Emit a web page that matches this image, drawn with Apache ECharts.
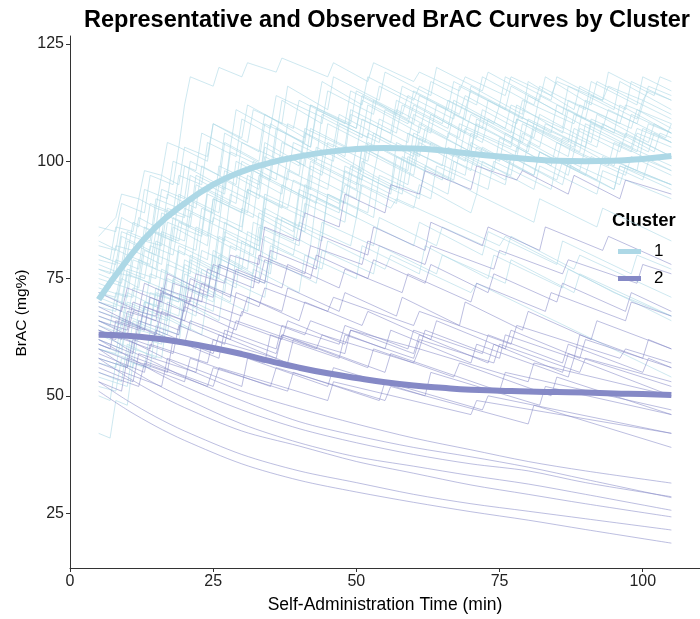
<!DOCTYPE html>
<html>
<head>
<meta charset="utf-8">
<script src="https://cdn.jsdelivr.net/npm/echarts@6/dist/echarts.min.js"></script>
<style>
html,body{margin:0;padding:0;background:#fff;}
#chart{width:700px;height:619px;}
</style>
</head>
<body>
<div id="chart"></div>
<script>
// ---------- tick labels ----------
const xTicks = [0, 25, 50, 75, 100];
const yTicks = [25, 50, 75, 100, 125];
const clusterNames = ['1', '2'];

// ---------- representative curves ----------
const repTime = [5,10,15,20,25,30,35,40,45,50,55,60,65,70,75,80,85,90,95,100,105];
const repCluster1 = [70.5,79,86,91,95,97.8,99.7,101,102,102.6,102.8,102.7,102.3,101.6,101,100.5,100.1,100,100.1,100.5,101.1];
const repCluster2 = [63,62.8,62.2,61.3,60.2,58.9,57.4,56,54.8,53.8,52.9,52.2,51.7,51.3,51.1,50.9,50.8,50.7,50.5,50.4,50.2];

// ---------- observed curves, cluster 1 ([min, mg%] vertices) ----------
const cluster1Observed = [
 [[5,84],[8,88],[9,93],[12,92],[13,98],[16,97],[17,104],[19,103],[20,112],[21,118],[25,116],[26,120],[30,118],[31,121],[36,119],[37,122],[45,118],[46,121],[52,117],[53,121],[60,117],[61,119],[68,115],[69,118],[76,114],[77,118],[84,114],[85,117],[93,113],[94,116],[100,113],[101,115],[105,113]],
 [[5,80],[7,79],[8,86],[11,85],[12,92],[15,90],[16,97],[19,95],[20,103],[24,101],[25,108],[30,105],[31,112],[37,108],[38,116],[45,111],[46,118],[54,113],[55,119],[63,114],[64,120],[72,115],[73,119],[82,113],[83,118],[91,112],[92,117],[100,112],[101,116],[105,114]],
 [[5,76],[9,74],[10,80],[14,78],[15,85],[19,83],[20,90],[25,87],[26,95],[31,92],[32,100],[38,96],[39,104],[46,100],[47,108],[54,104],[55,111],[63,106],[64,112],[72,107],[73,113],[81,108],[82,114],[90,109],[91,114],[99,109],[100,113],[105,110]],
 [[5,72],[8,71],[9,77],[13,75],[14,82],[18,80],[19,87],[24,84],[25,92],[30,89],[31,97],[37,93],[38,101],[44,97],[45,104],[52,100],[53,106],[61,101],[62,107],[70,102],[71,108],[80,102],[81,107],[89,102],[90,108],[98,103],[99,107],[105,104]],
 [[5,68],[10,66],[11,73],[16,71],[17,79],[22,76],[23,85],[29,81],[30,90],[36,86],[37,95],[43,91],[44,100],[51,96],[52,104],[60,99],[61,105],[69,100],[70,106],[78,101],[79,106],[87,101],[88,107],[96,102],[97,106],[105,101]],
 [[5,64],[8,63],[9,70],[13,68],[14,76],[18,74],[19,82],[24,79],[25,88],[30,85],[31,94],[37,90],[38,98],[45,94],[46,102],[53,97],[54,103],[62,98],[63,104],[71,99],[72,103],[81,97],[82,102],[90,97],[91,101],[100,96],[101,100],[105,98]],
 [[5,78],[9,76],[10,83],[15,80],[16,89],[21,86],[22,95],[28,91],[29,100],[35,96],[36,105],[43,100],[44,110],[52,105],[53,113],[60,108],[61,114],[69,109],[70,116],[79,110],[80,117],[88,111],[89,116],[97,111],[98,117],[105,113]],
 [[5,74],[7,73],[8,79],[12,77],[13,86],[18,83],[19,93],[25,89],[26,99],[33,95],[34,104],[41,99],[42,107],[50,102],[51,109],[59,104],[60,110],[68,105],[69,111],[77,106],[78,112],[86,106],[87,111],[95,106],[96,112],[105,106]],
 [[5,70],[11,67],[12,75],[18,72],[19,81],[25,77],[26,86],[33,82],[34,92],[41,88],[42,97],[50,92],[51,100],[59,95],[60,102],[69,97],[70,104],[79,98],[80,104],[89,98],[90,103],[99,98],[100,104],[105,101]],
 [[5,62],[9,60],[10,67],[14,65],[15,73],[20,70],[21,79],[26,76],[27,85],[33,81],[34,90],[40,86],[41,95],[48,91],[49,99],[57,94],[58,101],[66,96],[67,102],[76,96],[77,101],[85,96],[86,100],[95,94],[96,99],[105,94]],
 [[5,82],[8,81],[9,88],[12,86],[13,94],[17,92],[18,100],[22,98],[23,106],[28,103],[29,111],[35,107],[36,114],[43,110],[44,117],[51,112],[52,118],[60,113],[61,116],[69,111],[70,115],[79,109],[80,114],[89,108],[90,113],[99,108],[100,112],[105,109]],
 [[5,58],[10,56],[11,63],[16,61],[17,70],[22,67],[23,77],[29,73],[30,83],[36,79],[37,88],[44,84],[45,93],[52,89],[53,97],[61,92],[62,99],[71,93],[72,100],[81,94],[82,99],[92,93],[93,98],[105,92]],
 [[5,42],[7,41],[8,49],[10,48],[11,57],[14,56],[15,65],[19,63],[20,73],[25,70],[26,80],[32,76],[33,86],[40,82],[41,91],[48,87],[49,96],[57,91],[58,98],[66,93],[67,100],[76,95],[77,101],[86,95],[87,100],[96,95],[97,99],[105,95]],
 [[5,52],[8,51],[9,58],[13,56],[14,64],[19,61],[20,70],[26,66],[27,75],[34,71],[35,79],[43,74],[44,81],[53,76],[54,82],[64,76],[65,80],[76,74],[77,79],[88,72],[89,76],[105,67]],
 [[5,66],[9,64],[10,70],[16,67],[17,75],[24,71],[25,80],[33,75],[34,84],[43,79],[44,87],[53,82],[54,88],[64,82],[65,86],[76,80],[77,84],[88,77],[89,80],[105,71]],
 [[5,72],[9,70],[10,77],[15,75],[16,84],[22,81],[23,90],[30,86],[31,94],[38,90],[39,96],[47,91],[48,95],[56,90],[57,92],[75,82],[76,84],[95,72],[105,67]],
 [[5,60],[10,58],[11,66],[17,63],[18,72],[25,68],[26,78],[34,74],[35,82],[44,77],[45,83],[55,77],[56,80],[70,72],[71,74],[88,64],[105,54]],
 [[5,86],[8,85],[9,91],[13,89],[14,97],[18,95],[19,103],[24,100],[25,108],[31,104],[32,111],[39,107],[40,113],[48,108],[49,115],[57,110],[58,116],[66,111],[67,117],[75,112],[76,118],[84,113],[85,118],[93,113],[94,119],[102,114],[103,118],[105,117]],
 [[5,75],[10,73],[11,81],[16,78],[17,87],[23,84],[24,93],[31,89],[32,98],[40,93],[41,101],[49,96],[50,103],[58,98],[59,106],[67,101],[68,108],[77,103],[78,109],[87,104],[88,110],[97,105],[98,110],[105,106]],
 [[5,69],[8,68],[9,75],[12,73],[13,81],[17,79],[18,88],[23,85],[24,94],[29,91],[30,100],[36,96],[37,104],[44,100],[45,108],[53,103],[54,109],[62,104],[63,110],[72,104],[73,109],[82,103],[83,108],[92,103],[93,108],[102,102],[103,106],[105,105]],
 [[5,63],[11,60],[12,68],[17,66],[18,75],[24,71],[25,81],[31,77],[32,87],[39,83],[40,93],[47,89],[48,98],[56,93],[57,101],[65,96],[66,103],[74,98],[75,105],[84,99],[85,104],[94,99],[95,104],[105,98]],
 [[5,77],[8,76],[9,84],[14,81],[15,90],[20,88],[21,97],[27,93],[28,102],[35,98],[36,107],[42,103],[43,111],[50,107],[51,114],[59,109],[60,115],[68,110],[69,114],[78,108],[79,113],[88,108],[89,112],[98,107],[99,111],[105,107]],
 [[5,55],[9,53],[10,61],[15,58],[16,67],[21,64],[22,74],[28,70],[29,80],[35,76],[36,86],[42,82],[43,92],[50,88],[51,97],[58,93],[59,101],[67,96],[68,102],[77,97],[78,103],[87,97],[88,102],[97,97],[98,101],[105,97]],
 [[5,71],[9,69],[10,76],[14,74],[15,83],[20,80],[21,89],[26,86],[27,96],[33,92],[34,101],[40,97],[41,106],[48,101],[49,110],[56,106],[57,113],[65,108],[66,113],[74,108],[75,112],[84,106],[85,112],[93,107],[94,111],[104,105],[105,108]],
 [[5,60],[8,59],[9,66],[13,64],[14,72],[19,70],[20,79],[26,75],[27,84],[33,81],[34,89],[41,85],[42,93],[50,88],[51,95],[60,90],[61,95],[70,89],[71,93],[81,87],[82,92],[92,86],[93,90],[105,83]],
 [[5,80],[9,78],[10,85],[14,83],[15,92],[19,90],[20,99],[26,95],[27,104],[33,100],[34,108],[41,104],[42,112],[49,108],[50,115],[58,110],[59,114],[67,109],[68,116],[76,111],[77,116],[86,110],[87,116],[95,111],[96,117],[105,111]],
 [[5,66],[7,65],[8,72],[11,71],[12,79],[15,77],[16,85],[20,83],[21,92],[26,89],[27,98],[33,94],[34,103],[40,99],[41,107],[48,103],[49,111],[57,106],[58,112],[66,107],[67,113],[76,107],[77,112],[86,107],[87,113],[96,108],[97,112],[105,108]],
 [[5,57],[8,56],[9,63],[12,62],[13,70],[16,69],[17,78],[21,76],[22,86],[27,83],[28,93],[34,89],[35,98],[42,94],[43,103],[51,98],[52,106],[60,101],[61,108],[70,102],[71,109],[80,103],[81,108],[90,103],[91,109],[100,104],[101,108],[105,106]],
 [[5,73],[10,71],[11,79],[17,76],[18,86],[24,82],[25,92],[32,88],[33,97],[41,92],[42,100],[50,95],[51,103],[60,97],[61,104],[70,98],[71,103],[81,97],[82,102],[92,96],[93,101],[105,95]],
 [[5,79],[8,78],[9,85],[13,83],[14,91],[18,89],[19,97],[23,95],[24,104],[29,101],[30,109],[36,105],[37,113],[44,108],[45,115],[53,110],[54,116],[62,111],[63,117],[71,112],[72,118],[81,112],[82,116],[90,111],[91,117],[99,112],[100,118],[105,115]],
 [[5,65],[12,62],[13,70],[19,67],[20,76],[27,72],[28,82],[35,78],[36,88],[44,83],[45,93],[53,88],[54,97],[63,92],[64,99],[73,94],[74,100],[84,94],[85,100],[95,94],[96,99],[105,95]],
 [[5,50],[7,49],[8,57],[11,56],[12,64],[15,63],[16,72],[20,70],[21,80],[26,77],[27,87],[33,83],[34,93],[41,89],[42,99],[50,94],[51,103],[59,98],[60,106],[68,101],[69,107],[78,102],[79,108],[88,102],[89,107],[98,102],[99,106],[105,103]],
 [[5,83],[10,80],[11,87],[16,84],[17,93],[22,90],[23,99],[29,95],[30,104],[37,100],[38,108],[46,103],[47,110],[56,104],[57,111],[66,105],[67,110],[77,104],[78,109],[88,103],[89,108],[99,102],[100,107],[105,104]],
 [[5,67],[9,65],[10,72],[15,69],[16,77],[22,73],[23,81],[30,77],[31,85],[39,80],[40,87],[49,82],[50,88],[60,82],[61,87],[72,80],[73,85],[85,78],[86,83],[98,76],[99,80],[105,77]],
 [[5,70],[8,69],[9,76],[12,75],[13,83],[16,82],[17,90],[21,88],[22,97],[27,94],[28,103],[34,99],[35,108],[42,103],[43,110],[51,105],[52,112],[61,106],[62,111],[71,105],[72,111],[81,105],[82,110],[91,104],[92,110],[101,104],[102,108],[105,106]],
 [[5,61],[9,59],[10,66],[14,64],[15,72],[19,70],[20,78],[25,75],[26,84],[32,80],[33,89],[39,85],[40,94],[47,90],[48,99],[56,94],[57,104],[65,99],[66,106],[75,100],[76,106],[85,100],[86,105],[95,99],[96,104],[105,99]],
 [[5,54],[10,52],[11,60],[16,58],[17,67],[23,63],[24,72],[31,68],[32,77],[40,72],[41,80],[50,75],[51,82],[61,76],[62,82],[73,75],[74,80],[86,73],[87,77],[105,66]],
 [[5,77],[7,76],[8,82],[11,81],[12,88],[15,86],[16,94],[20,92],[21,100],[26,97],[27,106],[33,102],[34,110],[41,105],[42,112],[50,107],[51,113],[59,108],[60,112],[69,106],[70,110],[79,104],[80,109],[90,103],[91,108],[101,102],[102,106],[105,104]]
];

// ---------- observed curves, cluster 2 (sawtooth) ----------
const cluster2Observed = [
 [[5,64],[9,62],[10,68],[15,66],[16,72],[21,70],[22,76],[27,74],[28,80],[33,78],[34,86],[40,83],[41,89],[47,86],[48,93],[55,89],[56,95],[61,93],[62,98],[70,94],[71,99],[78,96],[79,98],[87,93],[88,97],[96,92],[97,96],[105,93]],
 [[5,66],[10,64],[11,70],[17,67],[18,74],[25,71],[26,78],[34,74],[35,81],[43,77],[44,84],[52,80],[53,86],[62,81],[63,87],[72,82],[73,86],[82,81],[83,86],[93,81],[94,84],[105,78]],
 [[5,70],[9,68],[10,73],[16,70],[17,76],[24,72],[25,78],[33,74],[34,79],[42,75],[43,80],[52,75],[53,79],[62,74],[63,78],[73,72],[74,76],[85,70],[86,74],[97,68],[98,72],[105,68]],
 [[5,62],[11,59],[12,66],[19,63],[20,70],[28,66],[29,72],[37,68],[38,73],[47,68],[48,72],[57,67],[58,71],[68,65],[69,70],[79,64],[80,68],[91,62],[92,66],[105,60]],
 [[5,67],[12,64],[13,69],[20,66],[21,71],[30,67],[31,71],[40,66],[41,70],[51,65],[52,68],[63,62],[64,66],[76,60],[77,64],[89,58],[90,62],[105,56]],
 [[5,58],[10,56],[11,62],[18,59],[19,65],[27,61],[28,66],[37,62],[38,66],[48,61],[49,64],[60,59],[61,63],[73,57],[74,61],[86,55],[87,59],[105,52]],
 [[5,64],[14,60],[15,64],[25,59],[26,63],[38,57],[39,62],[52,56],[53,60],[67,54],[68,57],[84,50],[85,54],[105,46]],
 [[5,55],[12,52],[13,57],[24,52],[25,56],[38,51],[39,55],[54,49],[55,53],[72,47],[73,50],[105,42]],
 [[5,60],[20,53],[21,58],[35,52],[36,56],[55,49],[56,52],[80,44],[81,48],[105,39]],
 [[5,72],[12,68],[13,74],[22,69],[23,74],[33,69],[34,73],[45,68],[46,71],[60,65],[61,68],[77,61],[78,65],[96,58],[97,60],[105,57]],
 [[5,57],[16,52],[17,58],[30,52],[31,58],[45,52],[46,56],[62,50],[63,55],[82,48],[83,52],[105,46]],
 [[5,68],[20,61],[21,66],[36,59],[37,63],[55,55],[56,59],[75,51],[76,55],[105,47]],
 [[5,63],[8,62],[9,69],[15,67],[16,73],[23,70],[24,77],[32,73],[33,80],[41,76],[42,82],[51,78],[52,83],[62,78],[63,82],[74,77],[75,81],[86,76],[87,79],[99,74],[100,78],[105,76]],
 [[5,61],[25,52],[26,56],[45,49],[46,53],[70,46],[71,49],[105,42]],
 [[5,59],[13,55],[14,61],[24,57],[25,62],[36,58],[37,63],[48,59],[49,64],[61,60],[62,64],[75,58],[76,63],[88,58],[89,63],[100,58],[101,62],[105,60]],
 [[5,66],[10,63],[11,68],[19,64],[20,69],[29,64],[30,68],[41,63],[42,66],[55,60],[56,64],[70,57],[71,61],[87,54],[88,58],[105,50]],
 [[5,53],[9,51],[10,58],[17,55],[18,62],[26,58],[27,64],[36,60],[37,65],[47,61],[48,65],[59,60],[60,64],[72,59],[73,63],[86,57],[87,61],[100,55],[101,58],[105,56]],
 [[5,69],[15,63],[16,68],[28,62],[29,66],[43,60],[44,63],[60,57],[61,60],[80,53],[81,57],[105,50]],
 [[5,56],[11,53],[12,59],[22,55],[23,61],[34,57],[35,63],[47,58],[48,63],[60,58],[61,62],[74,57],[75,61],[89,55],[90,58],[105,53]],
 [[5,61],[7,60],[8,66],[13,64],[14,71],[20,68],[21,75],[28,71],[29,77],[37,73],[38,78],[47,73],[48,77],[58,72],[59,76],[70,70],[71,74],[83,68],[84,72],[97,66],[98,70],[105,67]]
];

// ---------- observed curves, cluster 2 (steady decline) ----------
const declineTime = [5,10,15,20,30,40,50,60,70,80,90,105];
const decline1 = [51,47,43.5,40.5,35.5,32,29.5,27.3,25.3,23.5,21.5,18.6];
const decline2 = [53,49,45.5,42.5,37.5,34,31.5,29,27,25.4,23.8,21.4];
const decline3 = [58,54,50.5,47.5,42.5,39.3,36,33.5,31,29,27,24.2];
const decline4 = [60,56,52.5,49.5,44,40,37,35,33,31.2,29,25.6];
const decline5 = [62,58.5,55,52,47,43,40,37.5,35.5,34,31.5,28.5];
const decline6 = [64,60,57,54,49,44.5,41.5,39,37,34.8,32.2,28.3];
const decline7 = [65,62,59,56,51,47.3,44,41,38.5,36,34,31.4];
const declineSets = [decline1, decline2, decline3, decline4, decline5, decline6, decline7];

// ---------- styles ----------
const col1 = '#ADD8E6';
const col2 = '#8589C6';
const thin1 = 'rgba(173,216,230,0.6)';
const thin2 = 'rgba(133,137,198,0.55)';

const series = [];
cluster1Observed.forEach(function (pts) {
  series.push({type:'line', data: pts, showSymbol:false, silent:true,
    lineStyle:{color: thin1, width: 1}, z: 2});
});
cluster2Observed.forEach(function (pts) {
  series.push({type:'line', data: pts, showSymbol:false, silent:true,
    lineStyle:{color: thin2, width: 1}, z: 2});
});
declineSets.forEach(function (vals) {
  series.push({type:'line', data: declineTime.map(function (t, i) { return [t, vals[i]]; }),
    showSymbol:false, silent:true, smooth: 0.3,
    lineStyle:{color: thin2, width: 1}, z: 2});
});
series.push({name: clusterNames[0], type:'line', smooth:true, showSymbol:false, silent:true,
  data: repTime.map(function (t, i) { return [t, repCluster1[i]]; }),
  itemStyle:{color: col1}, lineStyle:{color: col1, width: 6}, z: 5});
series.push({name: clusterNames[1], type:'line', smooth:true, showSymbol:false, silent:true,
  data: repTime.map(function (t, i) { return [t, repCluster2[i]]; }),
  itemStyle:{color: col2}, lineStyle:{color: col2, width: 6}, z: 5});

const FONT = 'Liberation Sans, Arial, sans-serif';
const chart = echarts.init(document.getElementById('chart'), null, {renderer:'canvas'});
chart.setOption({
  animation: false,
  backgroundColor: '#fff',
  title: {
    text: 'Representative and Observed BrAC Curves by Cluster',
    left: 382, top: 4, textAlign: 'center',
    textStyle: {fontFamily: FONT, fontWeight: 'bold', fontSize: 23.5, color: '#000'}
  },
  legend: {
    data: clusterNames,
    orient: 'vertical',
    left: 613, top: 238,
    itemWidth: 23, itemHeight: 5, itemGap: 10,
    icon: 'rect',
    textStyle: {fontFamily: FONT, fontSize: 17, color: '#000', padding:[0,0,0,8]}
  },
  graphic: [{
    type: 'text', left: 612, top: 211,
    style: {text: 'Cluster', font: 'bold 18.5px Liberation Sans, Arial, sans-serif', fill: '#000'}
  }, {
    type: 'text', x: 22, y: 313, rotation: Math.PI / 2,
    style: {text: 'BrAC (mg%)', font: '15.5px Liberation Sans, Arial, sans-serif', fill: '#000',
      align: 'center', verticalAlign: 'middle'}
  }],
  grid: {left: 70, right: -10, top: 36, bottom: 51},
  xAxis: {
    type: 'value', min: 0, max: 110,
    name: 'Self-Administration Time (min)', nameLocation: 'middle', nameGap: 28,
    nameTextStyle: {fontFamily: FONT, fontSize: 17.5, color: '#000'},
    splitLine: {show: false},
    axisLine: {lineStyle: {color: '#333', width: 1}},
    axisTick: {length: 4, lineStyle: {color: '#333'}, customValues: xTicks},
    axisLabel: {customValues: xTicks, fontFamily: FONT, fontSize: 16, color: '#222', margin: 6}
  },
  yAxis: {
    type: 'value', min: 13.3, max: 126.7,
    splitLine: {show: false},
    axisLine: {show: true, lineStyle: {color: '#333', width: 1}},
    axisTick: {show: true, length: 4, lineStyle: {color: '#333'}, customValues: yTicks},
    axisLabel: {customValues: yTicks, fontFamily: FONT, fontSize: 16, color: '#222', margin: 6}
  },
  series: series
});
</script>
</body>
</html>
